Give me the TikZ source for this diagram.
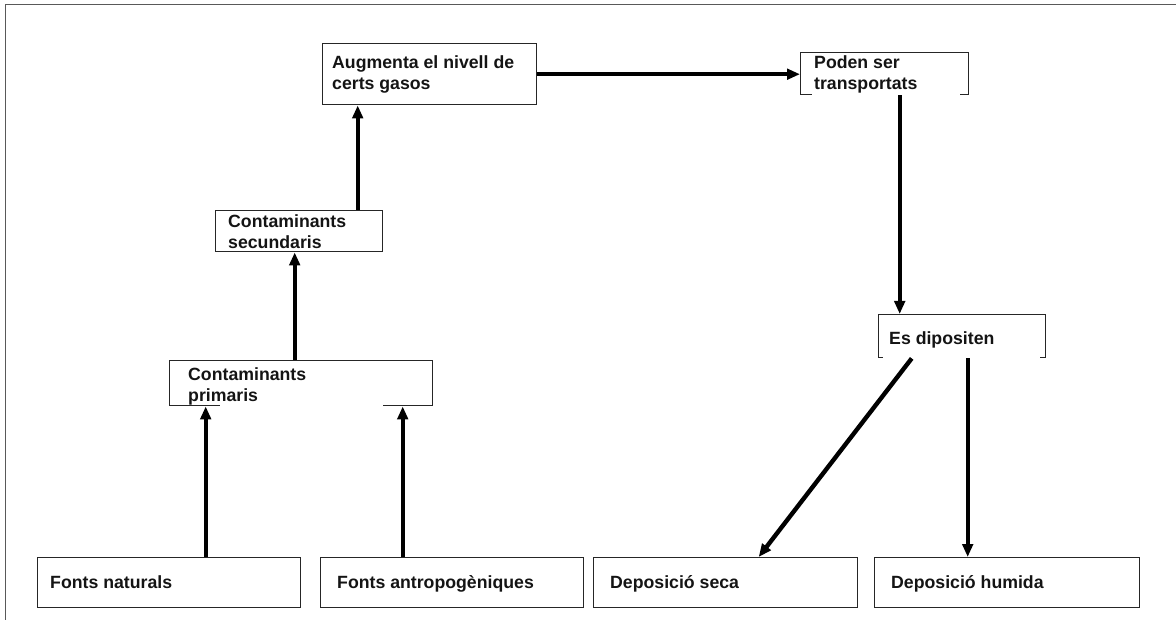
\documentclass[tikz,border=0pt]{standalone}
\usepackage{fontspec}
\setmainfont{Liberation Sans}
\usetikzlibrary{arrows.meta}
\begin{document}
\begin{tikzpicture}[x=1pt,y=-1pt,
  box/.style={draw=black!85, line width=1.4pt, inner sep=0pt, anchor=north west},
  txt/.style={inner sep=0pt, anchor=north west, align=left, text=black!92,
    font=\bfseries\fontsize{17.7}{21}\selectfont},
  arr/.style={line width=4.4pt, -{Triangle[length=13pt,width=10.5pt]}},
  framel/.style={draw=black!65, line width=1.5pt}]
\useasboundingbox (0,0) rectangle (1176,620);
% frame (top and left only)
\coordinate (fA) at (1176,4.5);
\coordinate (fB) at (5.5,4.5);
\coordinate (fC) at (5.5,620);
\draw[framel] (fA) -- (fB) -- (fC);
% boxes
\node[box, minimum width=214pt, minimum height=61pt] (aug) at (322,43) {};
\node[box, minimum width=167pt, minimum height=41pt] (sec) at (215,210) {};
\node[box, minimum width=263pt, minimum height=45pt] (pri) at (169,360) {};
\node[box, minimum width=263pt, minimum height=50pt] (fn) at (37,557) {};
\node[box, minimum width=263pt, minimum height=50pt] (fa) at (320,557) {};
\node[box, minimum width=168pt, minimum height=42pt] (pod) at (800,52) {};
\node[box, minimum width=167pt, minimum height=43pt] (esd) at (878,314) {};
\node[box, minimum width=264pt, minimum height=50pt] (ds) at (593,557) {};
\node[box, minimum width=265pt, minimum height=50pt] (dh) at (874,557) {};
% white gaps in bottom edges
\fill[white] (220,403) rectangle (383,407);
\fill[white] (812,92) rectangle (960,96);
\fill[white] (883,355) rectangle (1040,359);
% texts
\node[txt] (taug) at (332,55) {Augmenta el nivell de\\certs gasos};
\node[txt] (tsec) at (228,214.5) {Contaminants\\secundaris};
\node[txt] (tpri) at (188,367.5) {Contaminants\\primaris};
\node[txt] (tfn) at (50,575.5) {Fonts naturals};
\node[txt] (tfa) at (337,575.5) {Fonts antropogèniques};
\node[txt] (tpod) at (814,55.5) {Poden ser\\transportats};
\node[txt] (tesd) at (889,331.5) {Es dipositen};
\node[txt] (tds) at (610,575.5) {Deposició seca};
\node[txt] (tdh) at (891,575.5) {Deposició humida};
% connectors
\draw[arr] ([xshift=36.5pt]fn.north) -- ([xshift=36.5pt]fn.north |- pri.south);
\draw[arr] ([xshift=-49.5pt]fa.north) -- ([xshift=-49.5pt]fa.north |- pri.south);
\draw[arr] ([xshift=-6.5pt]pri.north) -- ([xshift=-6.5pt]pri.north |- sec.south);
\draw[arr] ([xshift=58.5pt]sec.north) -- ([xshift=58.5pt]sec.north |- aug.south);
\draw[arr] (aug.east) -- (aug.east -| pod.west);
\draw[arr] ([xshift=15pt]pod.south) -- ([xshift=15pt]pod.south |- esd.north);
\draw[arr] ([xshift=-50.5pt]esd.south) -- ([xshift=33pt]ds.north);
\draw[arr] ([xshift=5.5pt]esd.south) -- ([xshift=5.5pt]esd.south |- dh.north);
\end{tikzpicture}
\end{document}
